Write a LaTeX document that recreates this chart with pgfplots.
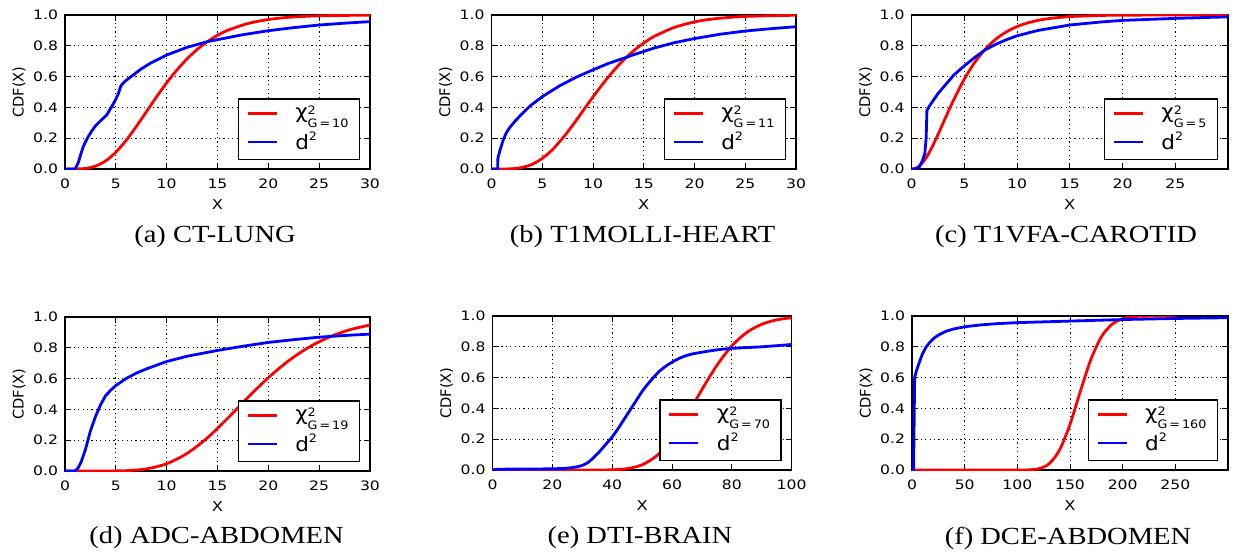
\documentclass[border=0pt]{standalone}
\usepackage{fontspec}
\setmainfont{DejaVu Sans}
\newfontfamily\tickfont{DejaVu Sans}[FakeStretch=1.2]
\newfontfamily\legfont{DejaVu Sans}[FakeStretch=1.1]
\newfontfamily\plainfont{DejaVu Sans}
\newfontfamily\capfont{Liberation Serif}[FakeStretch=1.16]
\usepackage{pgfplots}
\pgfplotsset{compat=1.18}

% legend texts: chi^2_{G=n} and d^2 in the sans font
\newcommand{\subsz}{\fontsize{5.8}{6}\selectfont}
\newcommand{\chiG}[1]{χ\raisebox{-0.25ex}{\subsz\begin{tabular}[c]{@{}l@{}}2\\[0.2pt]G\,=\,#1\end{tabular}}}
\newcommand{\dsq}{d\raisebox{0.85ex}{\subsz 2}}

\pgfplotsset{
  cdf/.style={
    scale only axis,
    height=77pt,
    xmin=0, ymin=0, ymax=1,
    axis line style={line width=0.6pt, black},
    tick style={line width=0.5pt, black},
    tick align=inside,
    xtick pos=both, ytick pos=both,
    major tick length=3pt,
    grid=major,
    grid style={black, line width=0.5pt, dash pattern=on 0.6pt off 1.6pt},
    ytick={0,0.2,0.4,0.6,0.8,1},
    yticklabel style={/pgf/number format/fixed, /pgf/number format/fixed zerofill,
      /pgf/number format/precision=1},
    xticklabel style={yshift=-1.5pt},
    /pgf/number format/assume math mode=true,
    tick label style={font=\tickfont\fontsize{6.5}{7}\selectfont},
    xlabel={X}, ylabel={CDF(X)},
    every axis x label/.style={at={(rel axis cs:0.5,0)}, yshift=-18pt, anchor=center,
      font=\tickfont\fontsize{6.8}{7}\selectfont},
    every axis y label/.style={at={(rel axis cs:0,0.5)}, xshift=-23pt, rotate=90, anchor=center,
      font=\plainfont\fontsize{7.3}{8}\selectfont},
    legend image code/.code={\draw[##1] (1.5pt,0pt) -- (16pt,0pt);},
    legend style={at={(rel axis cs:1,0)}, anchor=south east, xshift=-5pt, yshift=4.5pt,
      draw=black, line width=0.6pt, fill=white,
      inner xsep=4pt, inner ysep=2pt, row sep=2pt,
      font=\legfont\fontsize{9.8}{10}\selectfont,
      nodes={inner xsep=1.5pt, inner ysep=1.5pt},
      cells={anchor=west},
      /tikz/every odd column/.append style={column sep=7pt}},
    every axis plot/.append style={line width=1.4pt, no marks},
  },
  redc/.style={red},
  bluec/.style={blue},
}

\begin{document}
\begin{tikzpicture}
\useasboundingbox (0,0) rectangle (617.5pt,-278pt);

% ---------- (a) CT-LUNG ----------
\begin{axis}[cdf, at={(32.5pt,-84.5pt)}, anchor=south west, width=152.5pt,
  xmax=30, xtick={0,5,...,30}]
\addplot[redc, smooth] coordinates {
(0,0) (1,0.0002) (2,0.0037) (3,0.0186) (4,0.0527) (5,0.1088) (6,0.1847) (7,0.2746)
(8,0.3712) (9,0.4679) (10,0.5595) (11,0.6425) (12,0.7149) (13,0.7763) (14,0.8270)
(15,0.8679) (16,0.9004) (18,0.9450) (20,0.9707) (22,0.9849) (25,0.9947) (30,0.9991)
};
\addlegendentry{\chiG{10}}
\addplot[bluec] coordinates {
(0,0) (1,0) (1.3,0.04) (1.55,0.095) (1.8,0.147) (2.2,0.2) (2.6,0.244) (3,0.28)
(3.44,0.31) (4.1,0.35) (4.5,0.395) (4.9,0.44) (5.25,0.49) (5.5,0.54) (5.9,0.57)
(6.7,0.61) (7.5,0.65) (8.4,0.687) (10,0.74) (12,0.79) (14,0.827) (15,0.84)
(17.5,0.872) (20,0.898) (22.5,0.918) (25,0.935) (27.5,0.947) (30,0.957)
};
\addlegendentry{\dsq}
\end{axis}

% ---------- (b) T1MOLLI-HEART ----------
\begin{axis}[cdf, at={(245.8pt,-84.5pt)}, anchor=south west, width=152.2pt,
  xmax=30, xtick={0,5,...,30}]
\addplot[redc, smooth] coordinates {
(0,0) (1,0.0001) (2,0.0018) (3,0.0099) (4,0.0306) (5,0.069) (6,0.126) (7,0.200)
(8,0.285) (9,0.377) (10,0.469) (11,0.556) (12,0.636) (13,0.707) (14,0.768)
(15,0.818) (16,0.860) (18,0.919) (20,0.955) (22,0.9756) (25,0.9908) (30,0.9984)
};
\addlegendentry{\chiG{11}}
\addplot[bluec] coordinates {
(0,0) (0.6,0) (0.62,0.07) (0.82,0.12) (1.15,0.19) (1.45,0.235) (1.8,0.27) (2.3,0.31)
(2.8,0.345) (3.8,0.41) (5,0.47) (6.7,0.54) (8.3,0.595) (10,0.644) (11.5,0.685)
(13.3,0.726) (14,0.742) (16,0.785) (18,0.82) (20,0.847) (22.5,0.875) (25,0.896)
(27.5,0.911) (30,0.924)
};
\addlegendentry{\dsq}
\end{axis}

% ---------- (c) T1VFA-CAROTID ----------
\begin{axis}[cdf, at={(455.8pt,-84.5pt)}, anchor=south west, width=158.2pt,
  xmax=30, xtick={0,5,...,25}]
\addplot[redc, smooth] coordinates {
(0,0) (0.5,0.0079) (1,0.0374) (1.5,0.0869) (2,0.1509) (2.5,0.2235) (3,0.3000)
(3.5,0.3766) (4,0.4506) (5,0.5841) (6,0.6938) (7,0.7794) (8,0.8438) (9,0.8909)
(10,0.9248) (11,0.9486) (12,0.9652) (13,0.9767) (15,0.9896) (18,0.9970)
(20,0.9988) (25,0.9999) (30,1.0)
};
\addlegendentry{\chiG{5}}
\addplot[bluec] coordinates {
(0,0) (0.3,0) (0.7,0.01) (1.0,0.05) (1.25,0.1) (1.38,0.2) (1.45,0.38) (1.7,0.41)
(2,0.44) (2.5,0.49) (3,0.53) (3.5,0.57) (4,0.61) (4.5,0.64) (5,0.67) (6,0.725)
(7,0.775) (8,0.81) (9,0.84) (10,0.865) (12,0.9) (15,0.935) (18,0.955) (20,0.965)
(25,0.978) (30,0.988)
};
\addlegendentry{\dsq}
\end{axis}

% ---------- (d) ADC-ABDOMEN ----------
\begin{axis}[cdf, at={(32.5pt,-235.5pt)}, anchor=south west, width=152.5pt,
  xmax=30, xtick={0,5,...,30}]
\addplot[redc, smooth] coordinates {
(0,0) (2,0) (4,0.0001) (6,0.0022) (8,0.0137) (10,0.0473) (12,0.114) (14,0.215)
(16,0.342) (18,0.478) (20,0.606) (22,0.716) (24,0.804) (26,0.870) (28,0.917)
(30,0.948)
};
\addlegendentry{\chiG{19}}
\addplot[bluec] coordinates {
(0,0) (1,0) (1.3,0.02) (1.6,0.06) (2,0.137) (2.5,0.26) (3,0.354) (3.5,0.43)
(4,0.49) (4.5,0.525) (5,0.555) (6,0.6) (7,0.635) (8,0.663) (10,0.711) (12,0.745)
(15,0.783) (17.5,0.81) (20,0.835) (22.5,0.853) (25,0.869) (27.5,0.88) (30,0.889)
};
\addlegendentry{\dsq}
\end{axis}

% ---------- (e) DTI-BRAIN ----------
\begin{axis}[cdf, at={(246.3pt,-235pt)}, anchor=south west, width=149.5pt,
  xmax=100, xtick={0,20,...,100}]
\addplot[redc, smooth] coordinates {
(0,0) (30,0) (35,0.0002) (40,0.0015) (45,0.0088) (50,0.0339) (55,0.0944)
(60,0.2024) (65,0.353) (70,0.5225) (75,0.679) (80,0.806) (85,0.893) (90,0.946)
(95,0.975) (100,0.989)
};
\addlegendentry{\chiG{70}}
\addplot[bluec, smooth] coordinates {
(0,0) (2,0.005) (10,0.006) (20,0.008) (25,0.012) (28,0.02) (30,0.03) (32,0.05)
(34,0.085) (36,0.125) (38,0.17) (40,0.215) (42,0.27) (44,0.33) (46,0.39)
(48,0.45) (50,0.51) (52,0.56) (54,0.605) (56,0.645) (58,0.675) (60,0.70)
(63,0.73) (66,0.75) (70,0.765) (75,0.78) (80,0.79) (90,0.80) (100,0.815)
};
\addlegendentry{\dsq}
\end{axis}

% ---------- (f) DCE-ABDOMEN ----------
\begin{axis}[cdf, at={(456pt,-235pt)}, anchor=south west, width=158pt,
  xmax=300, xtick={0,50,...,250}]
\addplot[redc, smooth] coordinates {
(0,0) (100,0) (110,0.0009) (120,0.0078) (130,0.0394) (140,0.129) (150,0.297)
(160,0.515) (170,0.721) (180,0.867) (190,0.947) (200,0.9825) (210,0.9951)
(220,0.999) (250,1.0)
};
\addlegendentry{\chiG{160}}
\addplot[bluec] coordinates {
(0,0) (1.5,0) (2,0.3) (2.5,0.6) (4,0.64) (6,0.68) (8,0.72) (10,0.755) (13,0.795)
(17,0.83) (21,0.857) (26,0.88) (32,0.9) (39,0.915) (50,0.93) (65,0.942) (80,0.95)
(100,0.957) (150,0.967) (200,0.977) (250,0.984) (300,0.989)
};
\addlegendentry{\dsq}
\end{axis}

% ---------- captions ----------
\begin{scope}[every node/.style={font=\capfont\fontsize{12.3}{14}\selectfont}]
\node at (107.5pt,-118.5pt) {(a) CT-LUNG};
\node at (321.3pt,-118.5pt) {(b) T1MOLLI-HEART};
\node at (533pt,-118.5pt) {(c) T1VFA-CAROTID};
\node at (108.3pt,-269pt) {(d) ADC-ABDOMEN};
\node at (320pt,-269pt) {(e) DTI-BRAIN};
\node at (534pt,-269pt) {(f) DCE-ABDOMEN};
\end{scope}
\end{tikzpicture}
\end{document}
